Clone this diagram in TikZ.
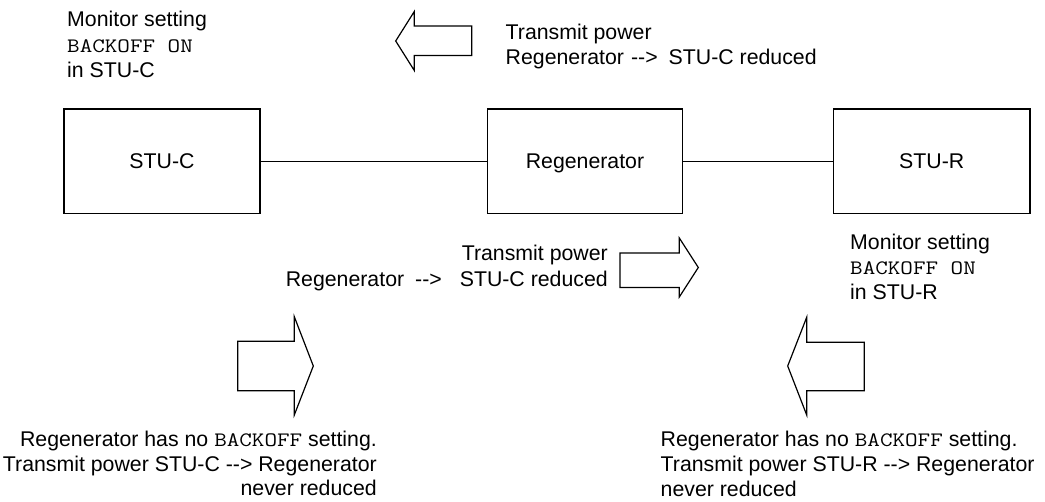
\documentclass[tikz,border=0pt]{standalone}
\usepackage{graphicx}
\usepackage{fontspec}
\setmainfont{Liberation Sans}
\newcommand\myarr{-\kern0pt-\kern0pt>}
\newcommand\cour[1]{\scalebox{1.19}[1]{\fontsize{20.5}{25}\selectfont\ttfamily #1}}
\tikzset{
  box/.style={draw, line width=1.2pt, minimum width=196pt, minimum height=104.5pt,
    inner sep=0pt, text height=15.3pt, text depth=0pt, font=\fontsize{21.3}{25}\selectfont},
  txt/.style={inner sep=0pt, font=\fontsize{21.3}{25}\selectfont},
  blockarrow/.style={draw, line width=1.2pt, line join=miter, fill=white},
  link/.style={line width=1.2pt}
}
\begin{document}
\begin{tikzpicture}[x=1pt,y=-1pt]
\useasboundingbox (0,0) rectangle (1045,502);

% boxes
\node[box] (stuc)  at (162,161.3) {STU-C};
\node[box, minimum width=195pt] (regen) at (585,161.3) {Regenerator};
\node[box, minimum width=196.7pt] (stur)  at (931.7,161.3) {STU-R};
\draw[link] (stuc.east) -- (regen.west);
\draw[link] (regen.east) -- (stur.west);

% block arrows
\draw[blockarrow] (395.7,41) -- (414.3,11.5) -- (414.3,26) -- (471.7,26)
  -- (471.7,55.5) -- (414.3,55.5) -- (414.3,70.5) -- cycle;
\draw[blockarrow] (698.3,267.5) -- (679.3,238) -- (679.3,253) -- (620,253)
  -- (620,287.5) -- (679.3,287.5) -- (679.3,297) -- cycle;
\draw[blockarrow] (313.3,366) -- (294.3,316.7) -- (294.3,341.3) -- (237.7,341.3)
  -- (237.7,390.7) -- (294.3,390.7) -- (294.3,415) -- cycle;
\draw[blockarrow] (787.7,366) -- (806.7,317.3) -- (806.7,342.3) -- (864.3,342.3)
  -- (864.3,390.7) -- (806.7,390.7) -- (806.7,415) -- cycle;

% top-left text
\node[txt, anchor=base west] (mc1) at (67,26.7) {Monitor setting};
\node[txt, anchor=base west] (mc2) at (67,52.3) {\cour{BACKOFF ON}};
\node[txt, anchor=base west] (mc3) at (67,77.3) {in STU-C};

% top transmit text
\node[txt, anchor=base west] (tt1) at (505.5,39.3) {Transmit power};
\node[txt, anchor=base west] (tt2) at (505.5,64.3) {Regenerator\hspace{7pt}\myarr\hspace{11pt}STU-C reduced};

% middle transmit text
\node[txt, anchor=base east] (mt1) at (608,261) {Transmit power};
\node[txt, anchor=base east] (mt2) at (608,286.5) {Regenerator\hspace{11pt}\myarr\hspace{18pt}STU-C reduced};

% right monitor text
\node[txt, anchor=base west] (mr1) at (850,250) {Monitor setting};
\node[txt, anchor=base west] (mr2) at (850,275) {\cour{BACKOFF ON}};
\node[txt, anchor=base west] (mr3) at (850,300) {in STU-R};

% bottom-left text
\node[txt, anchor=base east] (bl1) at (377,446.5) {Regenerator has no \cour{BACKOFF} setting.};
\node[txt, anchor=base east] (bl2) at (377,471.5) {Transmit power STU-C \myarr\ Regenerator};
\node[txt, anchor=base east] (bl3) at (377,496) {never reduced};

% bottom-right text
\node[txt, anchor=base west] (br1) at (660.5,447) {Regenerator has no \cour{BACKOFF} setting.};
\node[txt, anchor=base west] (br2) at (660.5,472) {Transmit power STU-R \myarr\ Regenerator};
\node[txt, anchor=base west] (br3) at (660.5,496.5) {never reduced};
\end{tikzpicture}
\end{document}
